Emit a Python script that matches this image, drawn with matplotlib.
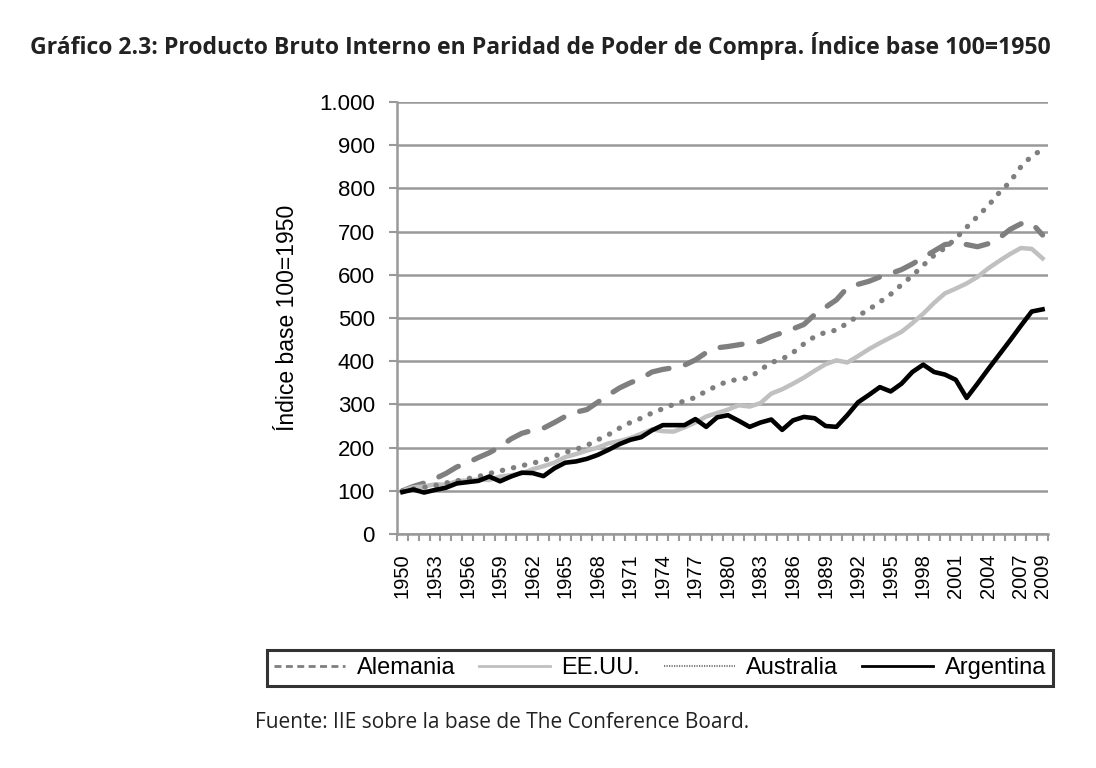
import matplotlib.pyplot as plt
from matplotlib.lines import Line2D
from matplotlib.ticker import FuncFormatter

# Datos: indice base 100=1950
anios = list(range(1950, 2010))

alemania = [100, 110, 118, 128, 140, 155, 165, 177, 188, 202,
            220, 233, 240, 245, 258, 272, 282, 288, 305, 322,
            338, 350, 360, 375, 381, 385, 391, 403, 420, 431,
            434, 438, 442, 446, 457, 466, 475, 485, 508, 525,
            542, 570, 578, 585, 595, 603, 612, 625, 640, 655,
            670, 673, 670, 665, 672, 685, 705, 718, 720, 692]

eeuu = [100, 108, 110, 115, 114, 122, 124, 126, 125, 133,
        136, 140, 150, 157, 165, 178, 185, 193, 200, 210,
        215, 222, 232, 242, 238, 237, 247, 258, 272, 280,
        288, 298, 295, 303, 325, 335, 348, 362, 378, 393,
        402, 397, 412, 428, 442, 455, 468, 488, 510, 535,
        557, 568, 580, 595, 615, 632, 648, 662, 660, 638]

australia = [100, 104, 108, 112, 118, 123, 128, 133, 140, 146,
             152, 158, 164, 170, 180, 189, 196, 205, 218, 230,
             245, 258, 268, 280, 290, 300, 308, 316, 331, 343,
             354, 358, 362, 380, 397, 405, 420, 440, 457, 467,
             472, 488, 505, 520, 537, 555, 577, 598, 622, 645,
             662, 684, 710, 735, 760, 790, 815, 850, 875, 890]

argentina = [97, 103, 96, 102, 107, 117, 120, 123, 133, 122,
             133, 142, 141, 134, 152, 165, 168, 174, 183, 195,
             208, 218, 224, 240, 252, 252, 252, 266, 248, 270,
             275, 262, 248, 258, 265, 241, 263, 271, 268, 250,
             248, 275, 305, 322, 340, 330, 348, 375, 392, 375,
             369, 357, 315, 348, 382, 415, 448, 482, 515, 520]

etiquetas_x = list(range(1950, 2008, 3)) + [2009]

plt.rcParams['font.family'] = ['Liberation Sans', 'DejaVu Sans']

fig = plt.figure(figsize=(10.96, 7.68), dpi=100)
ax = fig.add_axes([397 / 1096, 1 - 534 / 768, 651 / 1096, 432 / 768])

gris_osc = '#7f7f7f'
gris_cla = '#c0c0c0'

ax.plot(anios, alemania, color=gris_osc, lw=3.8, dashes=(4.2, 3.2),
        dash_capstyle='round', solid_capstyle='round', zorder=3)
ax.plot(anios, eeuu, color=gris_cla, lw=3.2, zorder=4)
ax.plot(anios, australia, color=gris_osc, lw=3.8, dashes=(0.05, 2.1),
        dash_capstyle='round', zorder=5)
ax.plot(anios, argentina, color='black', lw=3.3, zorder=6)

ax.set_xlim(1949.5, 2009.5)
ax.set_ylim(0, 1000)
ax.set_yticks(range(0, 1001, 100))
ax.yaxis.set_major_formatter(FuncFormatter(
    lambda v, p: f'{int(v):,}'.replace(',', '.')))
ax.set_xticks(etiquetas_x)
ax.set_xticklabels([str(a) for a in etiquetas_x], rotation=90, fontsize=14.5)
ax.set_xticks([a - 0.5 for a in anios] + [2009.5], minor=True)
ax.tick_params(axis='x', which='major', length=0, pad=14)
ax.tick_params(axis='x', which='minor', length=5, width=1.5, color='#999999')
ax.tick_params(axis='y', length=6, width=1.5, color='#999999',
               labelsize=16, pad=10)

ax.grid(axis='y', color='#999999', lw=1.8)
ax.set_axisbelow(True)
for s in ['top', 'right']:
    ax.spines[s].set_visible(False)
for s in ['left', 'bottom']:
    ax.spines[s].set_color('#999999')
    ax.spines[s].set_linewidth(1.8)

ax.set_ylabel('Índice base 100=1950', fontsize=16.5)
ax.yaxis.set_label_coords(-0.15, 0.5)

# Leyenda
h = [Line2D([], [], color=gris_osc, lw=2, dashes=(2.5, 1.6)),
     Line2D([], [], color=gris_cla, lw=2),
     Line2D([], [], color=gris_osc, lw=1.5, dashes=(0.6, 0.6)),
     Line2D([], [], color='black', lw=2)]
leg = fig.legend(h, ['Alemania', 'EE.UU.', 'Australia', 'Argentina'],
                 loc='lower left', ncol=4, mode='expand',
                 bbox_to_anchor=(267 / 1096, 1 - 686 / 768, 786 / 1096, 43 / 768),
                 borderaxespad=0, fontsize=17, handlelength=3.0,
                 handletextpad=0.5, fancybox=False, frameon=True,
                 borderpad=0.3)
leg.get_frame().set_edgecolor('black')
leg.get_frame().set_linewidth(2.2)

fig.text(30 / 1096, 1 - 46 / 768,
         'Gráfico 2.3: Producto Bruto Interno en Paridad de Poder de Compra. Índice base 100=1950',
         fontsize=16.6, fontweight='bold', family='Open Sans', color='#222222',
         va='center', ha='left')
fig.text(255 / 1096, 1 - 722 / 768,
         'Fuente: IIE sobre la base de The Conference Board.',
         fontsize=15, family='Open Sans', color='#222222', va='center', ha='left')

fig.savefig('out.png', dpi=100)
